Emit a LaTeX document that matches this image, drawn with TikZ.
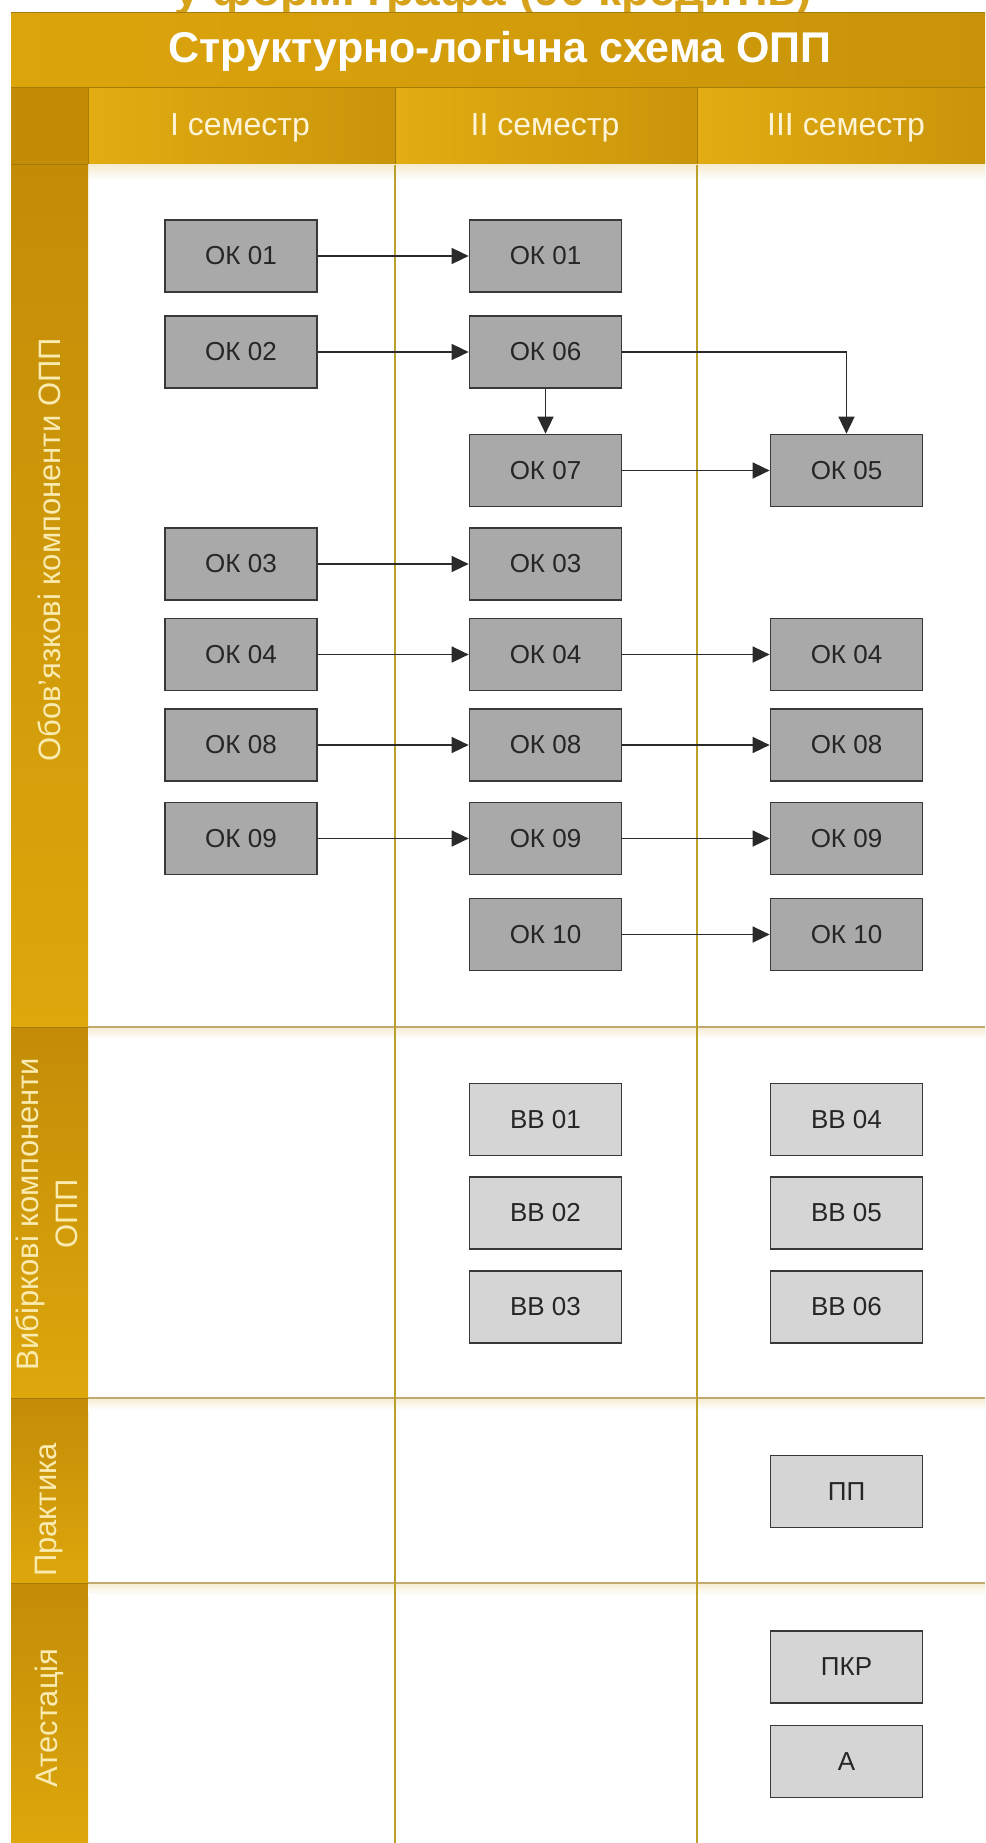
\documentclass[tikz,border=0pt]{standalone}
\usepackage{fontspec}
\setmainfont{Liberation Sans}
\usetikzlibrary{arrows.meta}
\definecolor{topgold}{HTML}{D6A21A}
\definecolor{barL}{HTML}{DDA50C}
\definecolor{barR}{HTML}{C8930A}
\definecolor{hdrL}{HTML}{E2AC12}
\definecolor{hdrR}{HTML}{C9940A}
\definecolor{stripT}{HTML}{C28C08}
\definecolor{stripB}{HTML}{DEA70C}
\definecolor{stripline}{HTML}{A77B08}
\definecolor{vdiv}{HTML}{BBA12A}
\definecolor{hdiv}{HTML}{C2AA6E}
\definecolor{glow}{HTML}{F6ECD2}
\definecolor{hdrtext}{HTML}{FFF4D6}
\definecolor{striptext}{HTML}{FAEBB0}
\definecolor{okfill}{HTML}{A9A9A9}
\definecolor{bbfill}{HTML}{D5D5D5}
\definecolor{boxline}{HTML}{383838}
\definecolor{arrowc}{HTML}{2A2A2A}
\tikzset{
  okbox/.style={draw=boxline, fill=okfill, line width=1.7pt, minimum width=152pt, minimum height=72pt, inner sep=0pt, text=black!85, font=\fontsize{26}{30}\selectfont},
  bbbox/.style={okbox, fill=bbfill},
  conn/.style={draw=arrowc, line width=1.5pt, -{Triangle[length=17pt,width=16pt]}},
  striplabel/.style={rotate=90, text=striptext, font=\fontsize{31}{39}\selectfont, align=center},
  hdrlabel/.style={text=hdrtext, font=\fontsize{32}{36}\selectfont}
}
\begin{document}
\begin{tikzpicture}[x=1pt,y=-1pt]
\useasboundingbox (0,0) rectangle (985,1843);
\clip (0,0) rectangle (985,1843);
\fill[white] (0,0) rectangle (985,1843);
% cut-off heading
\node[anchor=base east, text=topgold, font=\bfseries\fontsize{46}{50}\selectfont] (top) at (815,6) {у формі графа (90 кредитів)};
% title bar
\shade[left color=barL, right color=barR] (11,13) rectangle (985,88);
\draw[stripline, line width=1pt] (11,13) -- (985,13);
\node[text=white, font=\bfseries\fontsize{43}{47}\selectfont] (title) at (500,51) {Структурно-логічна схема ОПП};
% header row
\fill[stripT] (11,88) rectangle (88,165);
\shade[left color=hdrL, right color=hdrR] (88,88) rectangle (395,165);
\shade[left color=hdrL, right color=hdrR] (395,88) rectangle (697,165);
\shade[left color=hdrL, right color=hdrR] (697,88) rectangle (985,165);
\draw[stripline, line width=1pt] (11,88) -- (985,88);
\draw[stripline, line width=1pt] (88,88) -- (88,165);
\draw[stripline, line width=1pt] (395,88) -- (395,165);
\draw[stripline, line width=1pt] (697,88) -- (697,165);
\shade[top color=glow, bottom color=white] (88,165) rectangle (985,180);
\node[hdrlabel] (h1) at (240,128) {I семестр};
\node[hdrlabel] (h2) at (545,128) {II семестр};
\node[hdrlabel] (h3) at (846,128) {III семестр};
% left strip
\shade[top color=stripT, bottom color=stripB] (11,165) rectangle (88,1027);
\shade[top color=stripT, bottom color=stripB] (11,1027) rectangle (88,1398);
\shade[top color=stripT, bottom color=stripB] (11,1398) rectangle (88,1583);
\shade[top color=stripT, bottom color=stripB] (11,1583) rectangle (88,1843);
\foreach \yy in {165,1027,1398,1583} {\draw[stripline, line width=1pt] (11,\yy) -- (88,\yy);}
\node[striplabel] (l1) at (49,550) {Обов'язкові компоненти ОПП};
\node[striplabel] (l2) at (47,1214) {Вибіркові компоненти\\ОПП};
\node[striplabel] (l3) at (49,1510) {Практика};
\node[striplabel] (l4) at (49,1718) {Атестація};
% section lines
\foreach \yy in {1027,1398,1583} {
  \shade[top color=glow, bottom color=white] (88,\yy) rectangle (985,\yy+12);
  \draw[hdiv, line width=2pt] (88,\yy) -- (985,\yy);
}
\draw[vdiv, line width=2pt] (395,165) -- (395,1843);
\draw[vdiv, line width=2pt] (697,165) -- (697,1843);
% column I
\node[okbox] (a01) at (241,256) {ОК 01};
\node[okbox] (a02) at (241,352) {ОК 02};
\node[okbox] (a03) at (241,564) {ОК 03};
\node[okbox] (a04) at (241,654.5) {ОК 04};
\node[okbox] (a08) at (241,745) {ОК 08};
\node[okbox] (a09) at (241,838.5) {ОК 09};
% column II
\node[okbox] (b01) at (545.5,256) {ОК 01};
\node[okbox] (b06) at (545.5,352) {ОК 06};
\node[okbox] (b07) at (545.5,470.5) {ОК 07};
\node[okbox] (b03) at (545.5,564) {ОК 03};
\node[okbox] (b04) at (545.5,654.5) {ОК 04};
\node[okbox] (b08) at (545.5,745) {ОК 08};
\node[okbox] (b09) at (545.5,838.5) {ОК 09};
\node[okbox] (b10) at (545.5,934.5) {ОК 10};
% column III
\node[okbox] (c05) at (846.5,470.5) {ОК 05};
\node[okbox] (c04) at (846.5,654.5) {ОК 04};
\node[okbox] (c08) at (846.5,745) {ОК 08};
\node[okbox] (c09) at (846.5,838.5) {ОК 09};
\node[okbox] (c10) at (846.5,934.5) {ОК 10};
% elective
\node[bbbox] (bb1) at (545.5,1119.5) {ВВ 01};
\node[bbbox] (bb2) at (545.5,1213) {ВВ 02};
\node[bbbox] (bb3) at (545.5,1307) {ВВ 03};
\node[bbbox] (bb4) at (846.5,1119.5) {ВВ 04};
\node[bbbox] (bb5) at (846.5,1213) {ВВ 05};
\node[bbbox] (bb6) at (846.5,1307) {ВВ 06};
% practice & attestation
\node[bbbox] (pp) at (846.5,1491.5) {ПП};
\node[bbbox] (pkr) at (846.5,1667) {ПКР};
\node[bbbox] (att) at (846.5,1761.5) {А};
% connectors
\draw[conn] (a01) -- (b01);
\draw[conn] (a02) -- (b06);
\draw[conn] (b06) -- (b07);
\draw[conn] (b06.east) -| (c05.north);
\draw[conn] (b07) -- (c05);
\draw[conn] (a03) -- (b03);
\draw[conn] (a04) -- (b04);
\draw[conn] (b04) -- (c04);
\draw[conn] (a08) -- (b08);
\draw[conn] (b08) -- (c08);
\draw[conn] (a09) -- (b09);
\draw[conn] (b09) -- (c09);
\draw[conn] (b10) -- (c10);
\end{tikzpicture}
\end{document}
